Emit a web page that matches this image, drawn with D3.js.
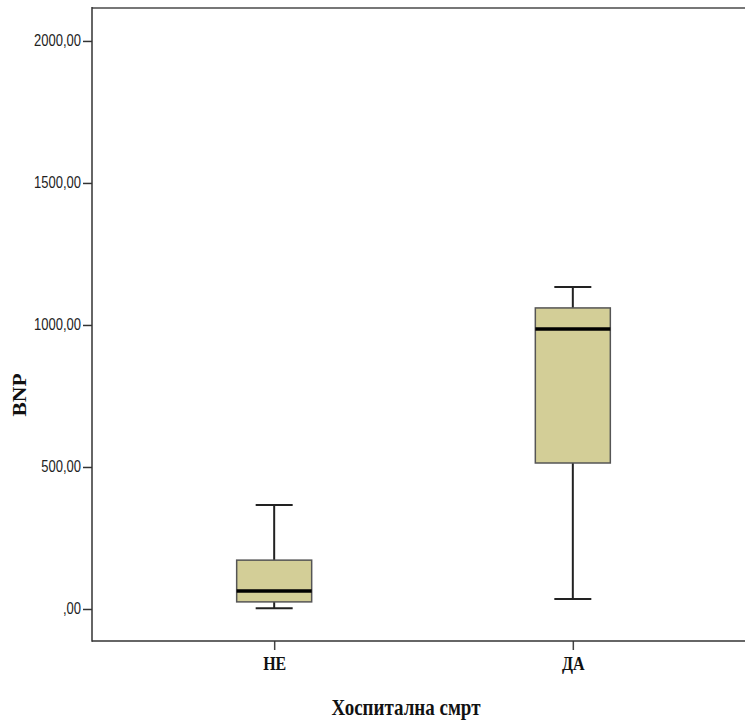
<!DOCTYPE html>
<html>
<head>
<meta charset="utf-8">
<script src="https://cdn.jsdelivr.net/npm/d3@7"></script>
<style>
  body { margin: 0; background: #fff; }
  svg { display: block; }
  .y-axis text { font-family: "Liberation Sans", Arial, sans-serif; font-size: 13px; fill: #222; }
  .x-axis text { font-family: "Liberation Serif", "Times New Roman", serif; font-size: 16px; font-weight: bold; fill: #111; }
  .title { font-family: "Liberation Serif", "Times New Roman", serif; font-weight: bold; fill: #111; }
</style>
</head>
<body>
<svg id="chart"></svg>
<script>
// Box plot summary values (BNP by hospital death)
const categories = ["НЕ", "ДА"];
const whiskerLow = [3, 35];
const q1 = [25, 514];
const median = [63, 986];
const q3 = [172, 1060];
const whiskerHigh = [366, 1134];
const yTicks = [0, 500, 1000, 1500, 2000];

const width = 745, height = 721;
const frame = { left: 92, right: 755, top: 8, bottom: 641 };
const stretch = 1.2; // the source picture is drawn a bit taller than wide

const boxes = categories.map((c, i) => ({
    cat: c, low: whiskerLow[i], q1: q1[i], med: median[i], q3: q3[i], high: whiskerHigh[i]
}));

const svg = d3.select("#chart")
    .attr("width", width)
    .attr("height", height);

const y = d3.scaleLinear()
    .domain([-112.7, 2116])
    .range([frame.bottom, frame.top]);

const x = d3.scalePoint()
    .domain(categories)
    .range([frame.left, frame.right])
    .padding(0.61);

const fmt = (d) => {
    const s = d3.format(".2f")(d).replace(".", ",");
    return s.startsWith("0,") ? s.slice(1) : s;
};

const yAxis = d3.axisLeft(y)
    .tickValues(yTicks)
    .tickFormat(fmt)
    .tickSize(9)
    .tickPadding(2);

const xAxis = d3.axisBottom(x)
    .tickSize(9)
    .tickPadding(6);

const yAxisGroup = svg.append("g")
    .attr("class", "axis y-axis")
    .attr("transform", `translate(${frame.left},0)`)
    .call(yAxis);
yAxisGroup.select(".domain").remove();
yAxisGroup.selectAll(".tick line").attr("stroke", "#333").attr("stroke-width", 1.5);
yAxisGroup.selectAll(".tick text").attr("transform", `scale(1,${stretch})`);

const xAxisGroup = svg.append("g")
    .attr("class", "axis x-axis")
    .attr("transform", `translate(0,${frame.bottom})`)
    .call(xAxis);
xAxisGroup.select(".domain").remove();
xAxisGroup.selectAll(".tick line").attr("stroke", "#444").attr("stroke-width", 1.5);
xAxisGroup.selectAll(".tick text")
    .attr("y", 0).attr("dy", 0)
    .attr("transform", `translate(0,29) scale(1,${stretch})`);

// frame lines
svg.append("line")
    .attr("x1", frame.left).attr("x2", frame.right)
    .attr("y1", frame.top).attr("y2", frame.top)
    .attr("stroke", "#777").attr("stroke-width", 2);
svg.append("line")
    .attr("x1", frame.left).attr("x2", frame.right)
    .attr("y1", frame.bottom).attr("y2", frame.bottom)
    .attr("stroke", "#333").attr("stroke-width", 1.5);
svg.append("line")
    .attr("x1", frame.left).attr("x2", frame.left)
    .attr("y1", frame.top - 1).attr("y2", frame.bottom + 0.75)
    .attr("stroke", "#333").attr("stroke-width", 1.5);

const boxW = 75, capW = 37;

const g = svg.selectAll(".box")
    .data(boxes)
    .join("g")
    .attr("class", "box")
    .attr("transform", (d) => `translate(${x(d.cat)},0)`);

// whiskers
g.append("line")
    .attr("x1", 0).attr("x2", 0)
    .attr("y1", (d) => y(d.high)).attr("y2", (d) => y(d.q3))
    .attr("stroke", "#222").attr("stroke-width", 2);
g.append("line")
    .attr("x1", 0).attr("x2", 0)
    .attr("y1", (d) => y(d.q1)).attr("y2", (d) => y(d.low))
    .attr("stroke", "#222").attr("stroke-width", 2);
g.append("line")
    .attr("x1", -capW / 2).attr("x2", capW / 2)
    .attr("y1", (d) => y(d.high)).attr("y2", (d) => y(d.high))
    .attr("stroke", "#222").attr("stroke-width", 2);
g.append("line")
    .attr("x1", -capW / 2).attr("x2", capW / 2)
    .attr("y1", (d) => y(d.low)).attr("y2", (d) => y(d.low))
    .attr("stroke", "#222").attr("stroke-width", 2);

// box
g.append("rect")
    .attr("x", -boxW / 2)
    .attr("width", boxW)
    .attr("y", (d) => y(d.q3))
    .attr("height", (d) => y(d.q1) - y(d.q3))
    .attr("fill", "#d3ce97")
    .attr("stroke", "#555")
    .attr("stroke-width", 1.5);

// median
g.append("line")
    .attr("x1", -boxW / 2).attr("x2", boxW / 2)
    .attr("y1", (d) => y(d.med)).attr("y2", (d) => y(d.med))
    .attr("stroke", "#000").attr("stroke-width", 3.5);

// axis titles
svg.append("text")
    .attr("class", "title")
    .attr("transform", `translate(26,395) rotate(-90) scale(${stretch},1)`)
    .attr("text-anchor", "middle")
    .style("font-size", "18px")
    .text("BNP");

svg.append("text")
    .attr("class", "title")
    .attr("transform", `translate(406,715) scale(1,${stretch})`)
    .attr("text-anchor", "middle")
    .style("font-size", "19px")
    .text("Хоспитална смрт");
</script>
</body>
</html>
